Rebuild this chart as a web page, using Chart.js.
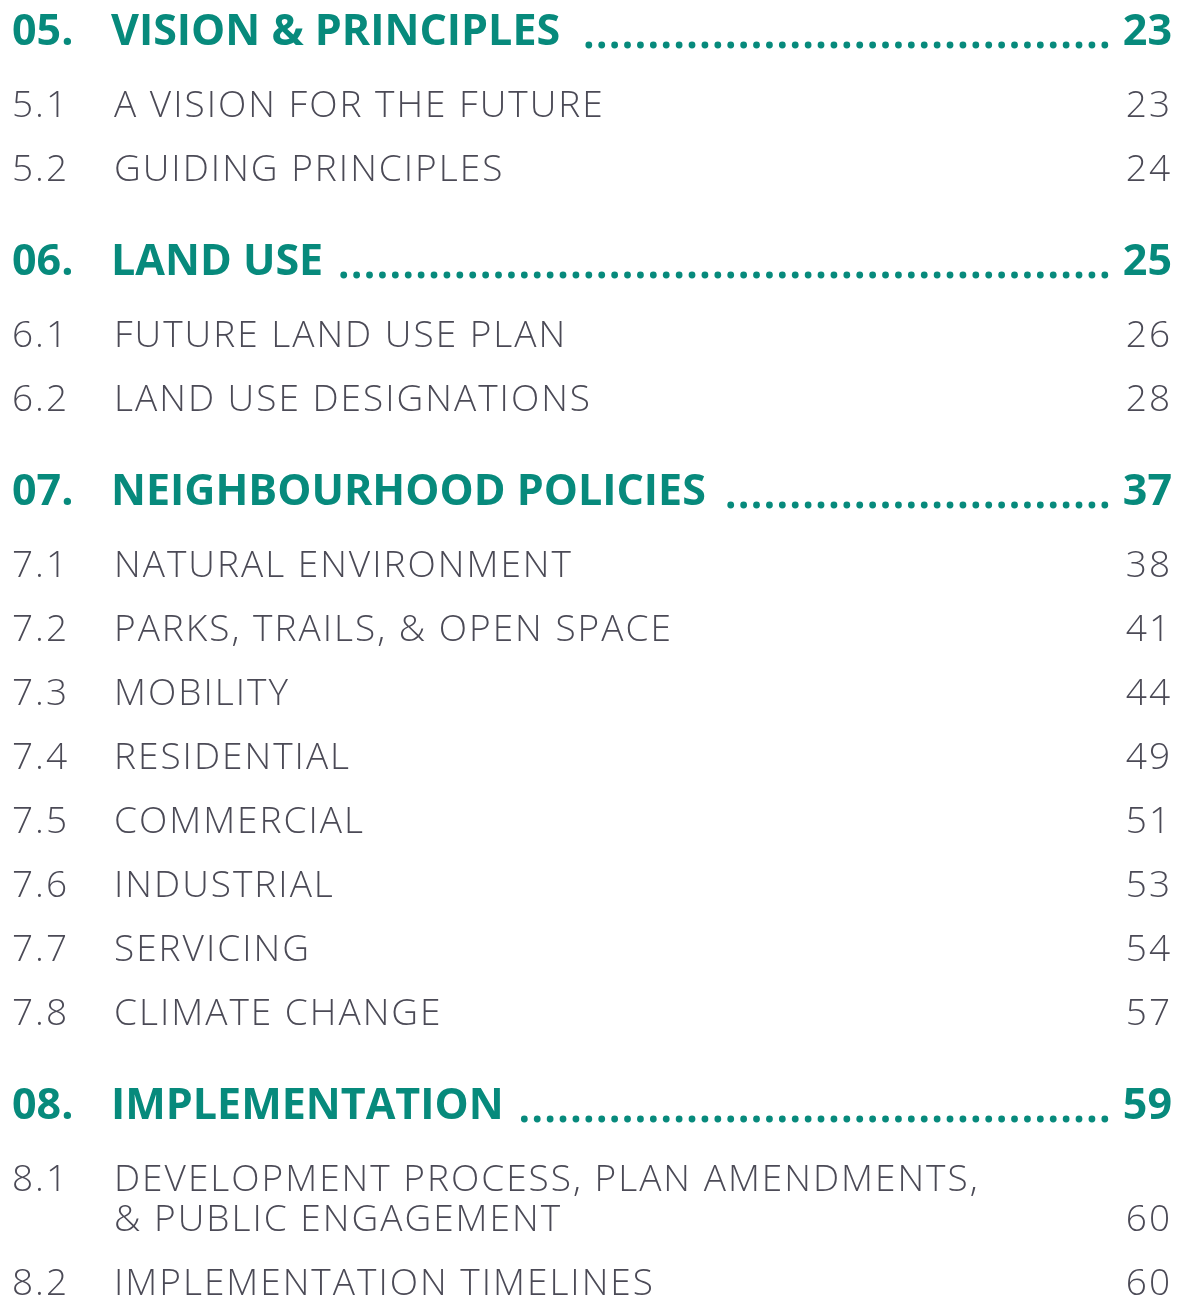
<!DOCTYPE html>
<html>
<head>
<meta charset="utf-8">
<script src="https://cdn.jsdelivr.net/npm/chart.js@4"></script>
<style>
  html, body { margin: 0; padding: 0; background: #fff; }
  #wrap { width: 1180px; height: 1299px; }
</style>
</head>
<body>
<div id="wrap"><canvas id="toc"></canvas></div>
<script>
// ── Data ──────────────────────────────────────────────────────────────────────

const sectionNums   = ["05.", "06.", "07.", "08."];
const sectionTitles = ["VISION & PRINCIPLES", "LAND USE", "NEIGHBOURHOOD POLICIES", "IMPLEMENTATION"];
const sectionPages  = [23, 25, 37, 59];

const itemNums = [
  ["5.1", "5.2"],
  ["6.1", "6.2"],
  ["7.1", "7.2", "7.3", "7.4", "7.5", "7.6", "7.7", "7.8"],
  ["8.1", "8.2"],
];
const itemTitles = [
  ["A VISION FOR THE FUTURE", "GUIDING PRINCIPLES"],
  ["FUTURE LAND USE PLAN", "LAND USE DESIGNATIONS"],
  ["NATURAL ENVIRONMENT", "PARKS, TRAILS, & OPEN SPACE", "MOBILITY", "RESIDENTIAL",
   "COMMERCIAL", "INDUSTRIAL", "SERVICING", "CLIMATE CHANGE"],
  [["DEVELOPMENT PROCESS, PLAN AMENDMENTS,", "& PUBLIC ENGAGEMENT"], "IMPLEMENTATION TIMELINES"],
];
const itemPages = [
  [23, 24],
  [26, 28],
  [38, 41, 44, 49, 51, 53, 54, 57],
  [60, 60],
];

// ── Style ─────────────────────────────────────────────────────────────────────

const TEAL = "#078a7c";
const GREY = "#4b4a56";
const HEAD_FONT = "bold 43px 'Open Sans'";
const ITEM_FONT = "300 37px 'Open Sans'";

// vertical rhythm (in y-scale units = px)
const FIRST_ROW   = 33;
const HEAD_TO_SUB = 73;
const SUB_STEP    = 64;
const WRAP_STEP   = 40;
const SUB_TO_HEAD = 93;

// ── Rows ──────────────────────────────────────────────────────────────────────

const rows = [];
let y = FIRST_ROW;
sectionNums.forEach((num, s) => {
  rows.push({ x: 0, y, kind: "head", num, title: [sectionTitles[s]], page: sectionPages[s] });
  y += HEAD_TO_SUB;
  itemNums[s].forEach((n, i) => {
    const t = itemTitles[s][i];
    const lines = Array.isArray(t) ? t : [t];
    rows.push({ x: 0, y, kind: "item", num: n, title: lines, page: itemPages[s][i] });
    y += WRAP_STEP * (lines.length - 1);
    y += i === itemNums[s].length - 1 ? SUB_TO_HEAD : SUB_STEP;
  });
});

// ── Text plugin ───────────────────────────────────────────────────────────────

const tocText = {
  id: "tocText",
  afterDatasetsDraw(chart) {
    const { ctx, scales } = chart;
    const meta = chart.getDatasetMeta(0);
    const left = scales.x.getPixelForValue(0);
    const right = scales.x.getPixelForValue(1);
    ctx.save();
    ctx.textBaseline = "middle";
    meta.data.forEach((pt, i) => {
      const r = rows[i];
      const py = pt.y;
      if (r.kind === "head") {
        ctx.font = HEAD_FONT;
        ctx.fillStyle = TEAL;
        ctx.letterSpacing = "0px";
        ctx.textAlign = "left";
        ctx.fillText(r.num, left + 12, py);
        ctx.fillText(r.title[0], left + 111, py);
        const tEnd = left + 111 + ctx.measureText(r.title[0]).width;
        ctx.textAlign = "right";
        ctx.fillText(String(r.page), right - 8, py);
        const pStart = right - 8 - ctx.measureText(String(r.page)).width;
        // dotted leader
        const step = 12.9;
        for (let dx = pStart - 18; dx > tEnd + 18; dx -= step) {
          ctx.beginPath();
          ctx.arc(dx, py + 12, 3.4, 0, Math.PI * 2);
          ctx.fill();
        }
      } else {
        ctx.font = ITEM_FONT;
        ctx.fillStyle = GREY;
        ctx.letterSpacing = "2px";
        ctx.textAlign = "left";
        ctx.fillText(r.num, left + 12, py);
        r.title.forEach((line, k) => ctx.fillText(line, left + 114, py + k * WRAP_STEP));
        ctx.textAlign = "right";
        ctx.fillText(String(r.page), right - 8, py + (r.title.length - 1) * WRAP_STEP);
      }
    });
    ctx.restore();
  },
};

// ── Chart ─────────────────────────────────────────────────────────────────────

new Chart(document.getElementById("toc"), {
  type: "scatter",
  data: { datasets: [{ data: rows, pointRadius: 0, pointHoverRadius: 0 }] },
  options: {
    responsive: true,
    maintainAspectRatio: false,
    animation: false,
    events: [],
    layout: { padding: 0 },
    plugins: { legend: { display: false }, tooltip: { enabled: false } },
    scales: {
      x: { type: "linear", min: 0, max: 1, display: false },
      y: { type: "linear", min: 0, max: 1299, reverse: true, display: false },
    },
  },
  plugins: [tocText],
});
</script>
</body>
</html>
